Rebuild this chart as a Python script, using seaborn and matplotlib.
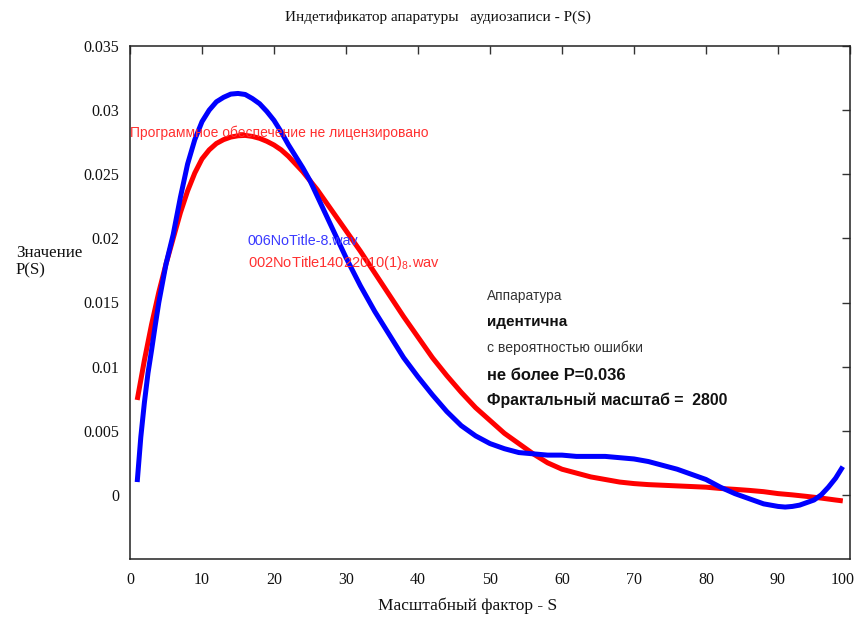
import matplotlib
matplotlib.use("Agg")
import matplotlib.pyplot as plt
import matplotlib.transforms as mtransforms
import seaborn as sns
import pandas as pd

# ---- data ----
S_blue = [1, 1.5, 2, 2.5, 3, 3.5, 4, 5, 6, 7, 8, 9, 10, 11, 12, 13, 14, 15, 16, 17, 18, 19,
          20, 21, 22, 23, 24, 25, 26, 27, 28, 29, 30, 32, 34, 36, 38, 40, 42, 44, 46, 48,
          50, 52, 54, 56, 58, 60, 62, 64, 66, 68, 70, 72, 74, 76, 78, 80, 82, 84, 86, 88,
          90, 91, 92, 93, 94, 95, 96, 97, 98, 99]
P_blue = [0.0010, 0.0045, 0.0072, 0.0095, 0.0113, 0.0132, 0.0150, 0.0180, 0.0203, 0.0232,
          0.0258, 0.0277, 0.0291, 0.0300, 0.03065, 0.0310, 0.03125, 0.0313, 0.03122, 0.0309,
          0.0305, 0.0299, 0.0292, 0.0283, 0.0273, 0.0264, 0.0255, 0.0245, 0.0233, 0.0221,
          0.0209, 0.0197, 0.0185, 0.0163, 0.0143, 0.0125, 0.0107, 0.0092, 0.0078, 0.0065,
          0.0054, 0.0046, 0.0040, 0.0036, 0.0033, 0.0032, 0.0031, 0.0031, 0.0030, 0.0030,
          0.0030, 0.0029, 0.0028, 0.0026, 0.0023, 0.0020, 0.0016, 0.0012, 0.0006, 0.0001,
          -0.0003, -0.0007, -0.0009, -0.00095, -0.0009, -0.0008, -0.0006, -0.0004, 0.0000,
          0.0006, 0.0013, 0.0022]

S_red = [1, 2, 3, 4, 5, 6, 7, 8, 9, 10, 11, 12, 13, 14, 15, 16, 17, 18, 19, 20, 21, 22, 23,
         24, 25, 26, 27, 28, 29, 30, 32, 34, 36, 38, 40, 42, 44, 46, 48, 50, 52, 54, 56, 58,
         60, 62, 64, 66, 68, 70, 72, 74, 76, 78, 80, 82, 84, 86, 88, 90, 92, 94, 96, 98, 99]
P_red = [0.0074, 0.0105, 0.0133, 0.0158, 0.0180, 0.0200, 0.0220, 0.0237, 0.0251, 0.0262,
         0.0269, 0.0274, 0.0277, 0.0279, 0.0280, 0.02803, 0.02795, 0.0278, 0.02757, 0.02728,
         0.0269, 0.0264, 0.0258, 0.0252, 0.0245, 0.0238, 0.0230, 0.0222, 0.0214, 0.0206,
         0.0190, 0.0173, 0.0156, 0.0139, 0.0123, 0.0107, 0.0093, 0.0080, 0.0068, 0.0058,
         0.0048, 0.0040, 0.0032, 0.0025, 0.0020, 0.0017, 0.0014, 0.0012, 0.0010, 0.00088,
         0.0008, 0.00075, 0.0007, 0.00065, 0.0006, 0.0005, 0.00043, 0.00035, 0.00025,
         0.0001, 0.0, -0.00012, -0.00025, -0.0004, -0.00047]

x_ticks = [0, 10, 20, 30, 40, 50, 60, 70, 80, 90, 100]
x_tick_labels = ["0", "10", "20", "30", "40", "50", "60", "70", "80", "90", "100"]
y_ticks = [0, 0.005, 0.01, 0.015, 0.02, 0.025, 0.03, 0.035]
y_tick_labels = ["0", "0.005", "0.01", "0.015", "0.02", "0.025", "0.03", "0.035"]

title = "Индетификатор апаратуры   аудиозаписи - P(S)"
x_label = "Масштабный фактор - S"
y_label = "Значение\nP(S)"
watermark = "Программное обеспечение не лицензировано"
name_blue = "006NoTitle-8.wav"
name_red = "002NoTitle14022010(1)$_\\mathregular{8}$.wav"
info_lines = ["Аппаратура", "идентична", "с вероятностью ошибки",
              "не более P=0.036", "Фрактальный масштаб =  2800"]
info_bold = [False, True, False, True, True]

# ---- style ----
sns.set_style("white")
plt.rcParams["font.family"] = ["Liberation Serif", "DejaVu Serif"]
plt.rcParams["mathtext.fontset"] = "custom"
plt.rcParams["mathtext.rm"] = "Liberation Sans"

W, H = 856, 622
fig = plt.figure(figsize=(W / 100, H / 100), dpi=100)
ax = fig.add_axes([130 / W, 1 - 559 / H, 720 / W, 513 / H])

df_red = pd.DataFrame({"S": S_red, "P": P_red})
df_blue = pd.DataFrame({"S": S_blue, "P": P_blue})
sns.lineplot(data=df_red, x="S", y="P", color="#ff0000", lw=3.6, ax=ax, sort=False,
             solid_joinstyle="round", solid_capstyle="butt")
sns.lineplot(data=df_blue, x="S", y="P", color="#0000ff", lw=3.6, ax=ax, sort=False,
             solid_joinstyle="round", solid_capstyle="butt")

ax.set_xlim(0, 100)
ax.set_ylim(-0.005, 0.035)
ax.set_xticks(x_ticks)
ax.set_xticklabels(x_tick_labels)
ax.set_yticks(y_ticks)
ax.set_yticklabels(y_tick_labels)
ax.set_xlabel("")
ax.set_ylabel("")
ax.tick_params(axis="both", direction="in", length=6, width=1, color="#333333",
               labelsize=11.5, labelcolor="#111111", top=True, right=True)
ax.tick_params(axis="x", pad=9)
ax.tick_params(axis="y", pad=8)
for sp in ax.spines.values():
    sp.set_visible(True)
    sp.set_color("#222222")
    sp.set_linewidth(1.1)

# shift the last x tick label slightly left so it stays inside the figure
last = ax.get_xticklabels()[-1]
last.set_transform(last.get_transform() +
                   mtransforms.ScaledTranslation(-7 / 100, 0, fig.dpi_scale_trans))

serif = ["Liberation Serif", "DejaVu Serif"]
sans = ["Liberation Sans", "DejaVu Sans"]

fig.text(438 / W, 1 - 17 / H, title, ha="center", va="center", fontsize=11,
         family=serif, color="#111111")
fig.text(468 / W, 1 - 606 / H, x_label, ha="center", va="center", fontsize=12.5,
         family=serif, color="#111111")
fig.text(16 / W, 1 - 262 / H, y_label, ha="left", va="center", fontsize=12.2,
         family=serif, color="#111111", linespacing=1.1)

fig.text(130 / W, 1 - 133 / H, watermark, ha="left", va="center", fontsize=10,
         family=sans, color="#ff3030", zorder=10)
fig.text(248 / W, 1 - 241 / H, name_blue, ha="left", va="center", fontsize=10.3,
         family=sans, color="#3a3aff", zorder=10)
fig.text(248 / W, 1 - 263 / H, name_red, ha="left", va="center", fontsize=10.5,
         family=sans, color="#ff3030", zorder=10)

info_y = [296, 322, 348, 375, 400]
info_size = [9.8, 11.0, 10.1, 11.9, 11.4]
for txt, yy, b, fs in zip(info_lines, info_y, info_bold, info_size):
    fig.text(487 / W, 1 - yy / H, txt, ha="left", va="center",
             fontsize=fs, fontweight="bold" if b else "normal",
             family=sans, color="#111111" if b else "#333333", zorder=10)

fig.savefig("out.png", dpi=100)
